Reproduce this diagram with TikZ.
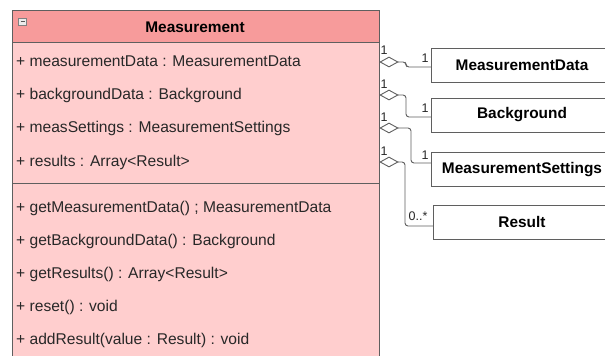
\documentclass[tikz,border=0pt]{standalone}
\usepackage{fontspec}
\setmainfont{Liberation Sans}
\usetikzlibrary{shapes.geometric}
\definecolor{hdrfill}{RGB}{247,155,155}
\definecolor{bodyfill}{RGB}{255,206,206}
\definecolor{edge}{RGB}{95,95,95}
\definecolor{txt}{RGB}{40,40,40}
\begin{document}
\begin{tikzpicture}[x=1pt,y=-1pt,
  member/.style={anchor=west,inner sep=0pt,text=txt,font=\fontsize{15.6}{18}\selectfont},
  title/.style={inner sep=0pt,text=black,font=\fontsize{15.4}{18}\selectfont\bfseries},
  agg/.style={shape=diamond,draw=edge,fill=white,line width=0.9pt,inner sep=0pt,minimum width=18pt,minimum height=10pt},
  conn/.style={draw=edge,line width=0.9pt,rounded corners=3pt},
  mult/.style={inner sep=0pt,text=txt,font=\fontsize{12.5}{13}\selectfont},
  classbox/.style={draw=edge,fill=white,line width=0.9pt,minimum width=190pt,minimum height=34pt,anchor=west,inner sep=0pt}
]
\useasboundingbox (0,0) rectangle (605,356);
\clip (0,0) rectangle (605,356);
\fill[white] (0,0) rectangle (605,356);
% main class
\fill[hdrfill] (12,10) rectangle (379,42);
\fill[bodyfill] (12,42) rectangle (379,370);
\draw[edge,line width=0.9pt] (12,370) -- (12,10) -- (379,10) -- (379,370);
\draw[edge,line width=0.9pt] (12,42) -- (379,42);
\draw[edge,line width=0.9pt] (12,183) -- (379,183);
\node[draw=gray,fill=gray!15,minimum width=8pt,minimum height=7pt,inner sep=0pt] (icon) at (22.5,21.5) {};
\draw[gray!70!black,line width=0.8pt] ([xshift=-2pt]icon.center) -- ([xshift=2pt]icon.center);
\node[title] (mtitle) at (195,27) {Measurement};
\node[member] (a1) at (16,61) {+ measurementData : MeasurementData};
\node[member] (a2) at (16,95) {+ backgroundData : Background};
\node[member] (a3) at (16,128) {+ measSettings : MeasurementSettings};
\node[member] (a4) at (16,162) {+ results : Array<Result>};
\node[member] (m1) at (16,208) {+ getMeasurementData() ; MeasurementData};
\node[member] (m2) at (16,241) {+ getBackgroundData() : Background};
\node[member] (m3) at (16,274) {+ getResults() : Array<Result>};
\node[member] (m4) at (16,307) {+ reset() : void};
\node[member] (m5) at (16,340) {+ addResult(value : Result) : void};
% related classes
\node[classbox] (b1) at (431,65) {};
\node[classbox] (b2) at (431,115) {};
\node[classbox] (b3) at (431,169.5) {};
\node[classbox] (b4) at (433,222) {};
\node[title] at (522,65) {MeasurementData};
\node[title] at (522,115) {Background};
\node[title] at (522,169.5) {MeasurementSettings};
\node[title] at (522,222) {Result};
% connectors
\draw[conn] (389,62) ++(9,0) -- ++(8,0) |- ([yshift=-2pt]b1.west);
\draw[conn] (389,95) ++(9,0) -- ++(8,0) |- ([yshift=-2pt]b2.west);
\draw[conn] (389,128) ++(9,0) -- ++(13,0) |- ([yshift=6.5pt]b3.west);
\draw[conn] (389,162) ++(9,0) -- ++(7,0) |- ([yshift=-4pt]b4.west);
\node[agg] (d1) at (389,62) {};
\node[agg] (d2) at (389,95) {};
\node[agg] (d3) at (389,128) {};
\node[agg] (d4) at (389,162) {};
\node[mult] at (384,50) {1};
\node[mult] at (384,84) {1};
\node[mult] at (384,117) {1};
\node[mult] at (384,151) {1};
\node[mult] at (425,58) {1};
\node[mult] at (425,108) {1};
\node[mult] at (425,155) {1};
\node[mult] at (418,216) {0..*};
\end{tikzpicture}
\end{document}
